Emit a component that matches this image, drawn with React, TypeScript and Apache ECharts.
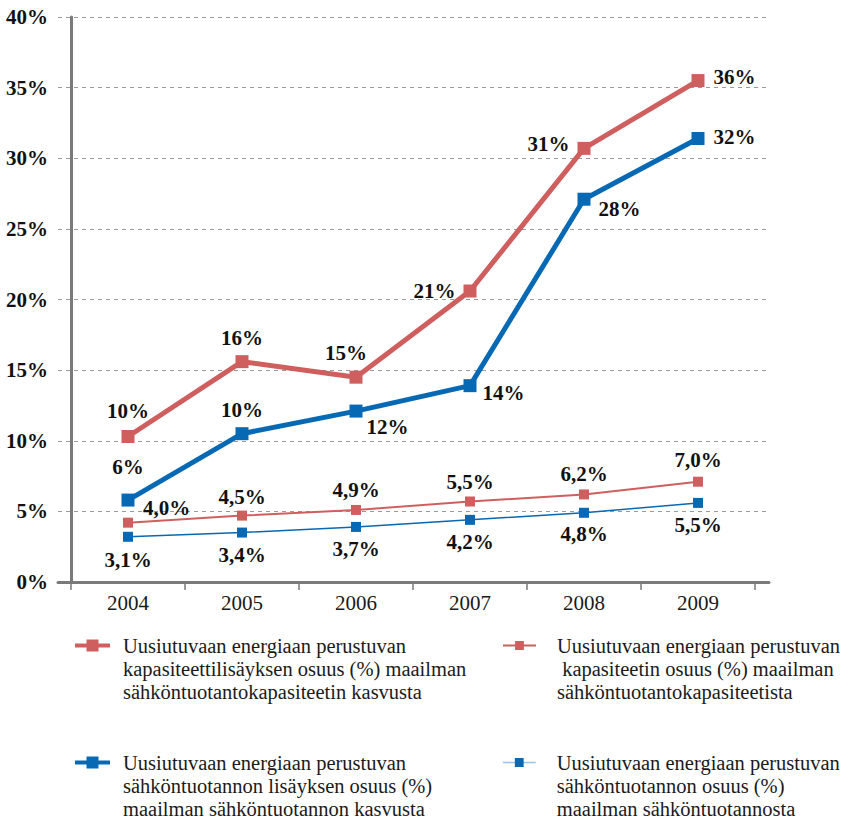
import React, { useEffect, useRef } from "react";
import * as echarts from "echarts";

const years = ["2004", "2005", "2006", "2007", "2008", "2009"];

const capacityGrowthShare = [10.3, 15.6, 14.5, 20.6, 30.7, 35.5];
const capacityGrowthLabels = ["10%", "16%", "15%", "21%", "31%", "36%"];

const generationGrowthShare = [5.8, 10.5, 12.1, 13.9, 27.1, 31.4];
const generationGrowthLabels = ["6%", "10%", "12%", "14%", "28%", "32%"];

const capacityShare = [4.2, 4.7, 5.1, 5.7, 6.2, 7.1];
const capacityShareLabels = ["4,0%", "4,5%", "4,9%", "5,5%", "6,2%", "7,0%"];

const generationShare = [3.2, 3.5, 3.9, 4.4, 4.9, 5.6];
const generationShareLabels = ["3,1%", "3,4%", "3,7%", "4,2%", "4,8%", "5,5%"];

const yMin = 0;
const yMax = 40;
const yStep = 5;

const seriesNames = [
  "Uusiutuvaan energiaan perustuvan\nkapasiteettilisäyksen osuus (%) maailman\nsähköntuotantokapasiteetin kasvusta",
  "Uusiutuvaan energiaan perustuvan\n kapasiteetin osuus (%) maailman\nsähköntuotantokapasiteetista",
  "Uusiutuvaan energiaan perustuvan\nsähköntuotannon lisäyksen osuus (%)\nmaailman sähköntuotannon kasvusta",
  "Uusiutuvaan energiaan perustuvan\nsähköntuotannon osuus (%)\nmaailman sähköntuotannosta",
];

const RED = "#CF5F5E";
const BLUE = "#0769B3";
const AXIS = "#7A7A7A";
const SERIF = "serif";

type LP = { position: any; distance?: number; offset?: number[] };

const redThickPos: LP[] = [
  { position: "top", distance: 7, offset: [0, -2] },
  { position: "top", distance: 7 },
  { position: "top", distance: 7, offset: [-10, 0] },
  { position: "left", distance: 8 },
  { position: "left", distance: 8, offset: [0, -4] },
  { position: "right", distance: 9, offset: [0, -4] },
];
const blueThickPos: LP[] = [
  { position: "top", distance: 14, offset: [0, -2] },
  { position: "top", distance: 7 },
  { position: "right", distance: 4, offset: [0, 16] },
  { position: "right", distance: 6, offset: [0, 7] },
  { position: "right", distance: 8, offset: [0, 10] },
  { position: "right", distance: 9, offset: [0, -1] },
];
const redThinPos: LP[] = [
  { position: "right", distance: 10, offset: [0, -15] },
  { position: "top", distance: 3 },
  { position: "top", distance: 4 },
  { position: "top", distance: 4 },
  { position: "top", distance: 5 },
  { position: "top", distance: 6 },
];
const blueThinPos: LP[] = [
  { position: "bottom", distance: 8 },
  { position: "bottom", distance: 7 },
  { position: "bottom", distance: 7 },
  { position: "bottom", distance: 7 },
  { position: "bottom", distance: 6 },
  { position: "bottom", distance: 7 },
];

const labelFont = {
  color: "#111",
  fontFamily: SERIF,
  fontWeight: "bold" as const,
  fontSize: 21,
};

function buildData(values: number[], labels: string[], pos: LP[]) {
  return values.map((v, i) => ({
    value: v,
    label: {
      show: true,
      formatter: labels[i],
      ...labelFont,
      position: pos[i].position,
      distance: pos[i].distance ?? 5,
      offset: pos[i].offset ?? [0, 0],
    },
  }));
}

function makeLegend(
  name: string,
  left: number,
  top: number,
  itemWidth: number,
  itemHeight: number,
  lineWidth: number,
  lineColor: string,
  padLeft: number
) {
  return {
    show: true,
    data: [name],
    left,
    top,
    orient: "vertical",
    itemWidth,
    itemHeight,
    padding: 0,
    selectedMode: false,
    lineStyle: { width: lineWidth, color: lineColor },
    formatter: (n: string) => "\n\n" + n,
    textStyle: {
      fontFamily: SERIF,
      fontSize: 20.5,
      lineHeight: 23,
      color: "#1a1a1a",
      padding: [0, 0, 0, padLeft],
    },
  };
}

export default function App() {
  const ref = useRef<HTMLDivElement>(null);

  useEffect(() => {
    document.body.style.margin = "0";
    if (!ref.current) return;
    const chart = echarts.init(ref.current, null, { renderer: "svg" });

    const gridTop = 17;
    const gridHeight = 565;

    chart.setOption({
      animation: false,
      backgroundColor: "#ffffff",
      textStyle: { fontFamily: SERIF },
      grid: [
        { left: 58, top: gridTop, width: 711, height: gridHeight },
        { left: 71, top: gridTop, width: 684, height: gridHeight },
      ],
      xAxis: [
        {
          gridIndex: 0,
          type: "category",
          data: years,
          axisLine: { show: true, lineStyle: { color: AXIS, width: 3 } },
          axisTick: { show: false },
          axisLabel: { show: false },
          splitLine: { show: false },
        },
        {
          gridIndex: 1,
          type: "category",
          data: years,
          boundaryGap: true,
          axisLine: { show: false },
          axisTick: { show: true, length: 8, lineStyle: { color: AXIS, width: 1.5 } },
          axisLabel: {
            color: "#1a1a1a",
            fontFamily: SERIF,
            fontSize: 21,
            margin: 10,
          },
          splitLine: { show: false },
        },
      ],
      yAxis: [
        {
          gridIndex: 0,
          type: "value",
          min: yMin,
          max: yMax,
          interval: yStep,
          axisLine: { show: false },
          axisTick: { show: false },
          axisLabel: { show: false },
          splitLine: { show: true, lineStyle: { color: "#9a9a9a", type: [4, 4], width: 1 } },
        },
        {
          gridIndex: 1,
          type: "value",
          min: yMin,
          max: yMax,
          interval: yStep,
          axisLine: { show: true, lineStyle: { color: AXIS, width: 3 } },
          axisTick: { show: false },
          splitLine: { show: false },
          axisLabel: {
            formatter: "{value}%",
            color: "#111",
            fontFamily: SERIF,
            fontWeight: "bold",
            fontSize: 21,
            margin: 23,
          },
        },
      ],
      legend: [
        makeLegend(seriesNames[0], 73, 588, 35, 15, 4, RED, 8),
        makeLegend(seriesNames[1], 502, 588, 33, 11, 2, RED, 16),
        makeLegend(seriesNames[2], 73, 705, 35, 15, 4, BLUE, 8),
        makeLegend(seriesNames[3], 502, 705, 33, 11, 1.5, "#9cc3e6", 16),
      ],
      series: [
        {
          name: seriesNames[0],
          type: "line",
          xAxisIndex: 1,
          yAxisIndex: 1,
          symbol: "rect",
          symbolSize: 13,
          lineStyle: { color: RED, width: 5 },
          itemStyle: { color: RED },
          data: buildData(capacityGrowthShare, capacityGrowthLabels, redThickPos),
          z: 4,
        },
        {
          name: seriesNames[1],
          type: "line",
          xAxisIndex: 1,
          yAxisIndex: 1,
          symbol: "rect",
          symbolSize: 10,
          lineStyle: { color: RED, width: 2 },
          itemStyle: { color: RED },
          data: buildData(capacityShare, capacityShareLabels, redThinPos),
          z: 3,
        },
        {
          name: seriesNames[2],
          type: "line",
          xAxisIndex: 1,
          yAxisIndex: 1,
          symbol: "rect",
          symbolSize: 13,
          lineStyle: { color: BLUE, width: 5 },
          itemStyle: { color: BLUE },
          data: buildData(generationGrowthShare, generationGrowthLabels, blueThickPos),
          z: 4,
        },
        {
          name: seriesNames[3],
          type: "line",
          xAxisIndex: 1,
          yAxisIndex: 1,
          symbol: "rect",
          symbolSize: 10,
          lineStyle: { color: BLUE, width: 1.5 },
          itemStyle: { color: BLUE },
          data: buildData(generationShare, generationShareLabels, blueThinPos),
          z: 3,
        },
      ],
    });

    return () => {
      chart.dispose();
    };
  }, []);

  return <div ref={ref} style={{ width: 847, height: 823 }} />;
}
